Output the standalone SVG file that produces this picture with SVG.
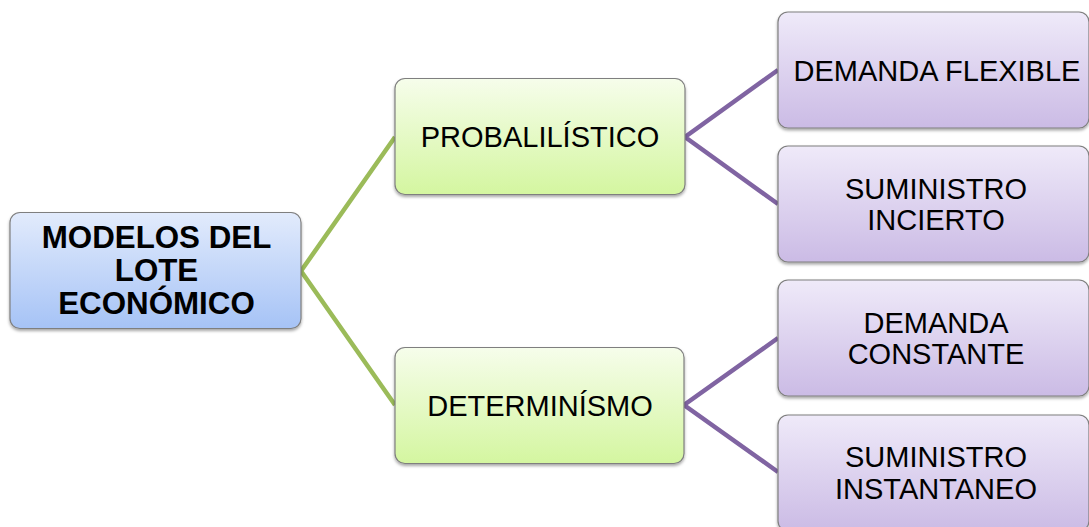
<svg xmlns="http://www.w3.org/2000/svg" width="1089" height="527" viewBox="0 0 1089 527">
  <defs>
    <linearGradient id="gBlue" x1="0" y1="0" x2="0" y2="1">
      <stop offset="0" stop-color="#e2ebfc"/>
      <stop offset="1" stop-color="#a6c3f6"/>
    </linearGradient>
    <linearGradient id="gGreen" x1="0" y1="0" x2="0" y2="1">
      <stop offset="0" stop-color="#f6fdeb"/>
      <stop offset="1" stop-color="#d4f6a0"/>
    </linearGradient>
    <linearGradient id="gPurple" x1="0" y1="0" x2="0" y2="1">
      <stop offset="0" stop-color="#efeaf9"/>
      <stop offset="1" stop-color="#cbbbe5"/>
    </linearGradient>
    <filter id="shadow" x="-10%" y="-10%" width="120%" height="130%">
      <feDropShadow dx="0" dy="2" stdDeviation="1.5" flood-color="#000" flood-opacity="0.35"/>
    </filter>
  </defs>
  <style>
    .box { stroke: #7f7f7f; stroke-width: 1.2; filter: url(#shadow); }
    .blue { fill: url(#gBlue); }
    .green { fill: url(#gGreen); }
    .purple { fill: url(#gPurple); }
    .t { font-family: "Liberation Sans", Arial, sans-serif; font-size: 29px; fill: #000; text-anchor: middle; }
    .tb { font-family: "Liberation Sans", Arial, sans-serif; font-size: 31.3px; font-weight: bold; fill: #000; text-anchor: middle; }
    .cg { stroke: #9bbb59; stroke-width: 4.5; fill: none; stroke-linejoin: miter; }
    .cp { stroke: #8064a2; stroke-width: 4.5; fill: none; stroke-linejoin: miter; }
  </style>
  <rect width="1089" height="527" fill="#ffffff"/>

  <g id="connectors">
    <polyline class="cg" points="395,137 301,271 395,405"/>
    <polyline class="cp" points="778,70 685,137 778,204"/>
    <polyline class="cp" points="778,338 684,405 778,472"/>
  </g>

  <g id="node-root">
    <rect class="box blue" x="10" y="212.5" width="291" height="116" rx="10"/>
    <text class="tb" x="156.5" y="247.7">MODELOS DEL</text>
    <text class="tb" x="156.5" y="280.7">LOTE</text>
    <text class="tb" x="156.5" y="313.5">ECONÓMICO</text>
  </g>

  <g id="node-probabilistico">
    <rect class="box green" x="395" y="78.5" width="290" height="116" rx="10"/>
    <text class="t" x="540" y="146.5">PROBALILÍSTICO</text>
  </g>

  <g id="node-determinismo">
    <rect class="box green" x="395" y="347.5" width="289" height="116" rx="10"/>
    <text class="t" x="540" y="415.5">DETERMINÍSMO</text>
  </g>

  <g id="node-demanda-flexible">
    <rect class="box purple" x="778" y="12" width="311" height="116" rx="10"/>
    <text class="t" x="937" y="80.5">DEMANDA FLEXIBLE</text>
  </g>

  <g id="node-suministro-incierto">
    <rect class="box purple" x="778" y="146" width="311" height="116" rx="10"/>
    <text class="t" x="936" y="198.5">SUMINISTRO</text>
    <text class="t" x="936" y="230">INCIERTO</text>
  </g>

  <g id="node-demanda-constante">
    <rect class="box purple" x="778" y="280" width="311" height="116" rx="10"/>
    <text class="t" x="936" y="332.5">DEMANDA</text>
    <text class="t" x="936" y="364">CONSTANTE</text>
  </g>

  <g id="node-suministro-instantaneo">
    <rect class="box purple" x="778" y="415" width="311" height="116" rx="10"/>
    <text class="t" x="936" y="467">SUMINISTRO</text>
    <text class="t" x="936" y="498.5">INSTANTANEO</text>
  </g>
</svg>
